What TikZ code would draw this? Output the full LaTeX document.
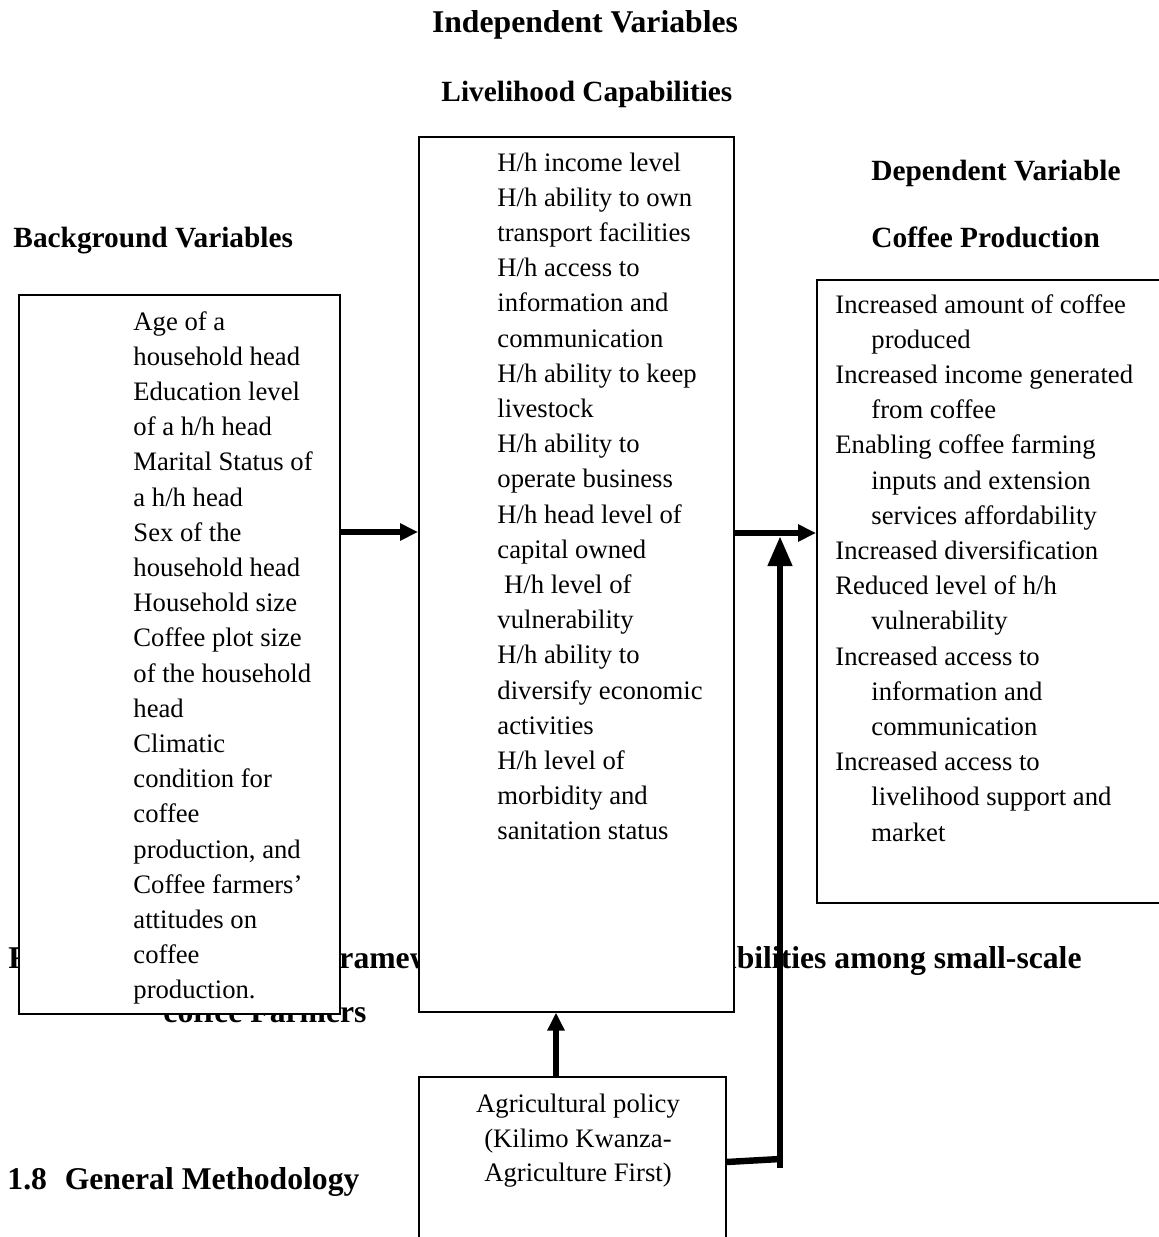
\documentclass[tikz,border=0pt]{standalone}
\usepackage{fontspec}
\setmainfont{Liberation Serif}
\usetikzlibrary{arrows.meta}
\def\U{0.45pt}
\newcommand\bodyfnt{\fontsize{12}{14}\selectfont}
\newcommand\hdfnt{\fontsize{13.2}{15}\selectfont\bfseries}
\newcommand\Hdfnt{\fontsize{14.25}{16}\selectfont\bfseries}
\tikzset{
  boxnode/.style={draw=black, line width=0.7pt, fill=white, anchor=north west, inner sep=0pt},
  txt/.style={anchor=base west, inner sep=0pt, font=\bodyfnt},
  ctxt/.style={anchor=base, inner sep=0pt, font=\bodyfnt},
  head/.style={anchor=base west, inner sep=0pt, font=\hdfnt},
  Head/.style={anchor=base west, inner sep=0pt, font=\Hdfnt},
  conn/.style={line width=2.5pt, -{Triangle[length=8.1pt,width=7.4pt]}},
  bigconn/.style={line width=3.1pt, -{Triangle[length=13.5pt,width=10.4pt]}},
  thickline/.style={line width=2.9pt},
}
\begin{document}
\begin{tikzpicture}[x=0.45pt,y=-0.45pt]
\useasboundingbox (0,0) rectangle (1159,1237);
\clip (0,0) rectangle (1159,1237);

% headings
\node[Head, anchor=base] (hind) at (585,32) {Independent Variables};
\node[head] (hliv) at (441,101) {Livelihood Capabilities};
\node[head] (hdep) at (871,180) {Dependent Variable};
\node[head] (hback) at (13,247) {Background Variables};
\node[head] (hcof) at (871,247) {Coffee Production};
\node[Head] (hmeth) at (7,1189) {1.8\hspace{8pt}General Methodology};

% caption (partly hidden behind boxes)
\node[Head] (cap1) at (8,968) {Figure 1.1: Conceptual framework for livelihood};
\node[Head, anchor=base east] (cap1b) at (1082,968) {capabilities among small-scale};
\node[Head] (cap2) at (163,1022) {coffee Farmers};

% boxes
\node[boxnode, minimum width={321*\U}, minimum height={719*\U}] (left) at (18,294) {};
\node[boxnode, minimum width={315*\U}, minimum height={875*\U}] (mid) at (418,136) {};
\node[boxnode, minimum width={360*\U}, minimum height={623*\U}] (right) at (816,279) {};
\node[boxnode, minimum width={307*\U}, minimum height={180*\U}] (bot) at (418,1076) {};

% left box text
\foreach \t [count=\i from 0] in {Age of a, household head, Education level, of a h/h head,
  Marital Status of, a h/h head, Sex of the, household head, Household size,
  Coffee plot size, of the household, head, Climatic, condition for, coffee,
  {production, and}, Coffee farmers’, attitudes on, coffee, production.}
  \node[txt] (l\i) at (133,{330+35.2*\i}) {\t};

% middle box text
\foreach \t [count=\i from 0] in {H/h income level, H/h ability to own, transport facilities,
  H/h access to, information and, communication, H/h ability to keep, livestock,
  H/h ability to, operate business, H/h head level of, capital owned,
  {\hspace*{3pt}H/h level of}, vulnerability, H/h ability to, diversify economic,
  activities, H/h level of, morbidity and, sanitation status}
  \node[txt] (m\i) at (497,{171+35.2*\i}) {\t};

% right box text
\foreach \xx/\t [count=\i from 0] in {835/{Increased amount of coffee}, 871/{produced},
  835/{Increased income generated}, 871/{from coffee}, 835/{Enabling coffee farming},
  871/{inputs and extension}, 871/{services affordability}, 835/{Increased diversification},
  835/{Reduced level of h/h}, 871/{vulnerability}, 835/{Increased access to},
  871/{information and}, 871/{communication}, 835/{Increased access to},
  871/{livelihood support and}, 871/{market}}
  \node[txt] (r\i) at (\xx,{313+35.2*\i}) {\t};

% bottom box text
\node[ctxt] (b0) at (578,1112) {Agricultural policy};
\node[ctxt] (b1) at (578,1147) {(Kilimo Kwanza-};
\node[ctxt] (b2) at (578,1181) {Agriculture First)};

% connectors
\coordinate (ya) at (0,532);
\coordinate (yr) at (0,533);
\coordinate (xu) at (556,0);
\coordinate (yb) at (0,1162);
\coordinate (jm) at (780,1159);
\coordinate (jb) at (780,1168);
\coordinate (jt) at (780,536);
\draw[conn] (left.east |- ya) -- (mid.west |- ya);
\draw[conn] (mid.east |- yr) -- (right.west |- yr);
\draw[conn] (bot.north -| xu) -- (mid.south -| xu);
\draw[thickline] (bot.east |- yb) -- (jm);
\draw[bigconn] (jb) -- (jt);
\end{tikzpicture}
\end{document}
